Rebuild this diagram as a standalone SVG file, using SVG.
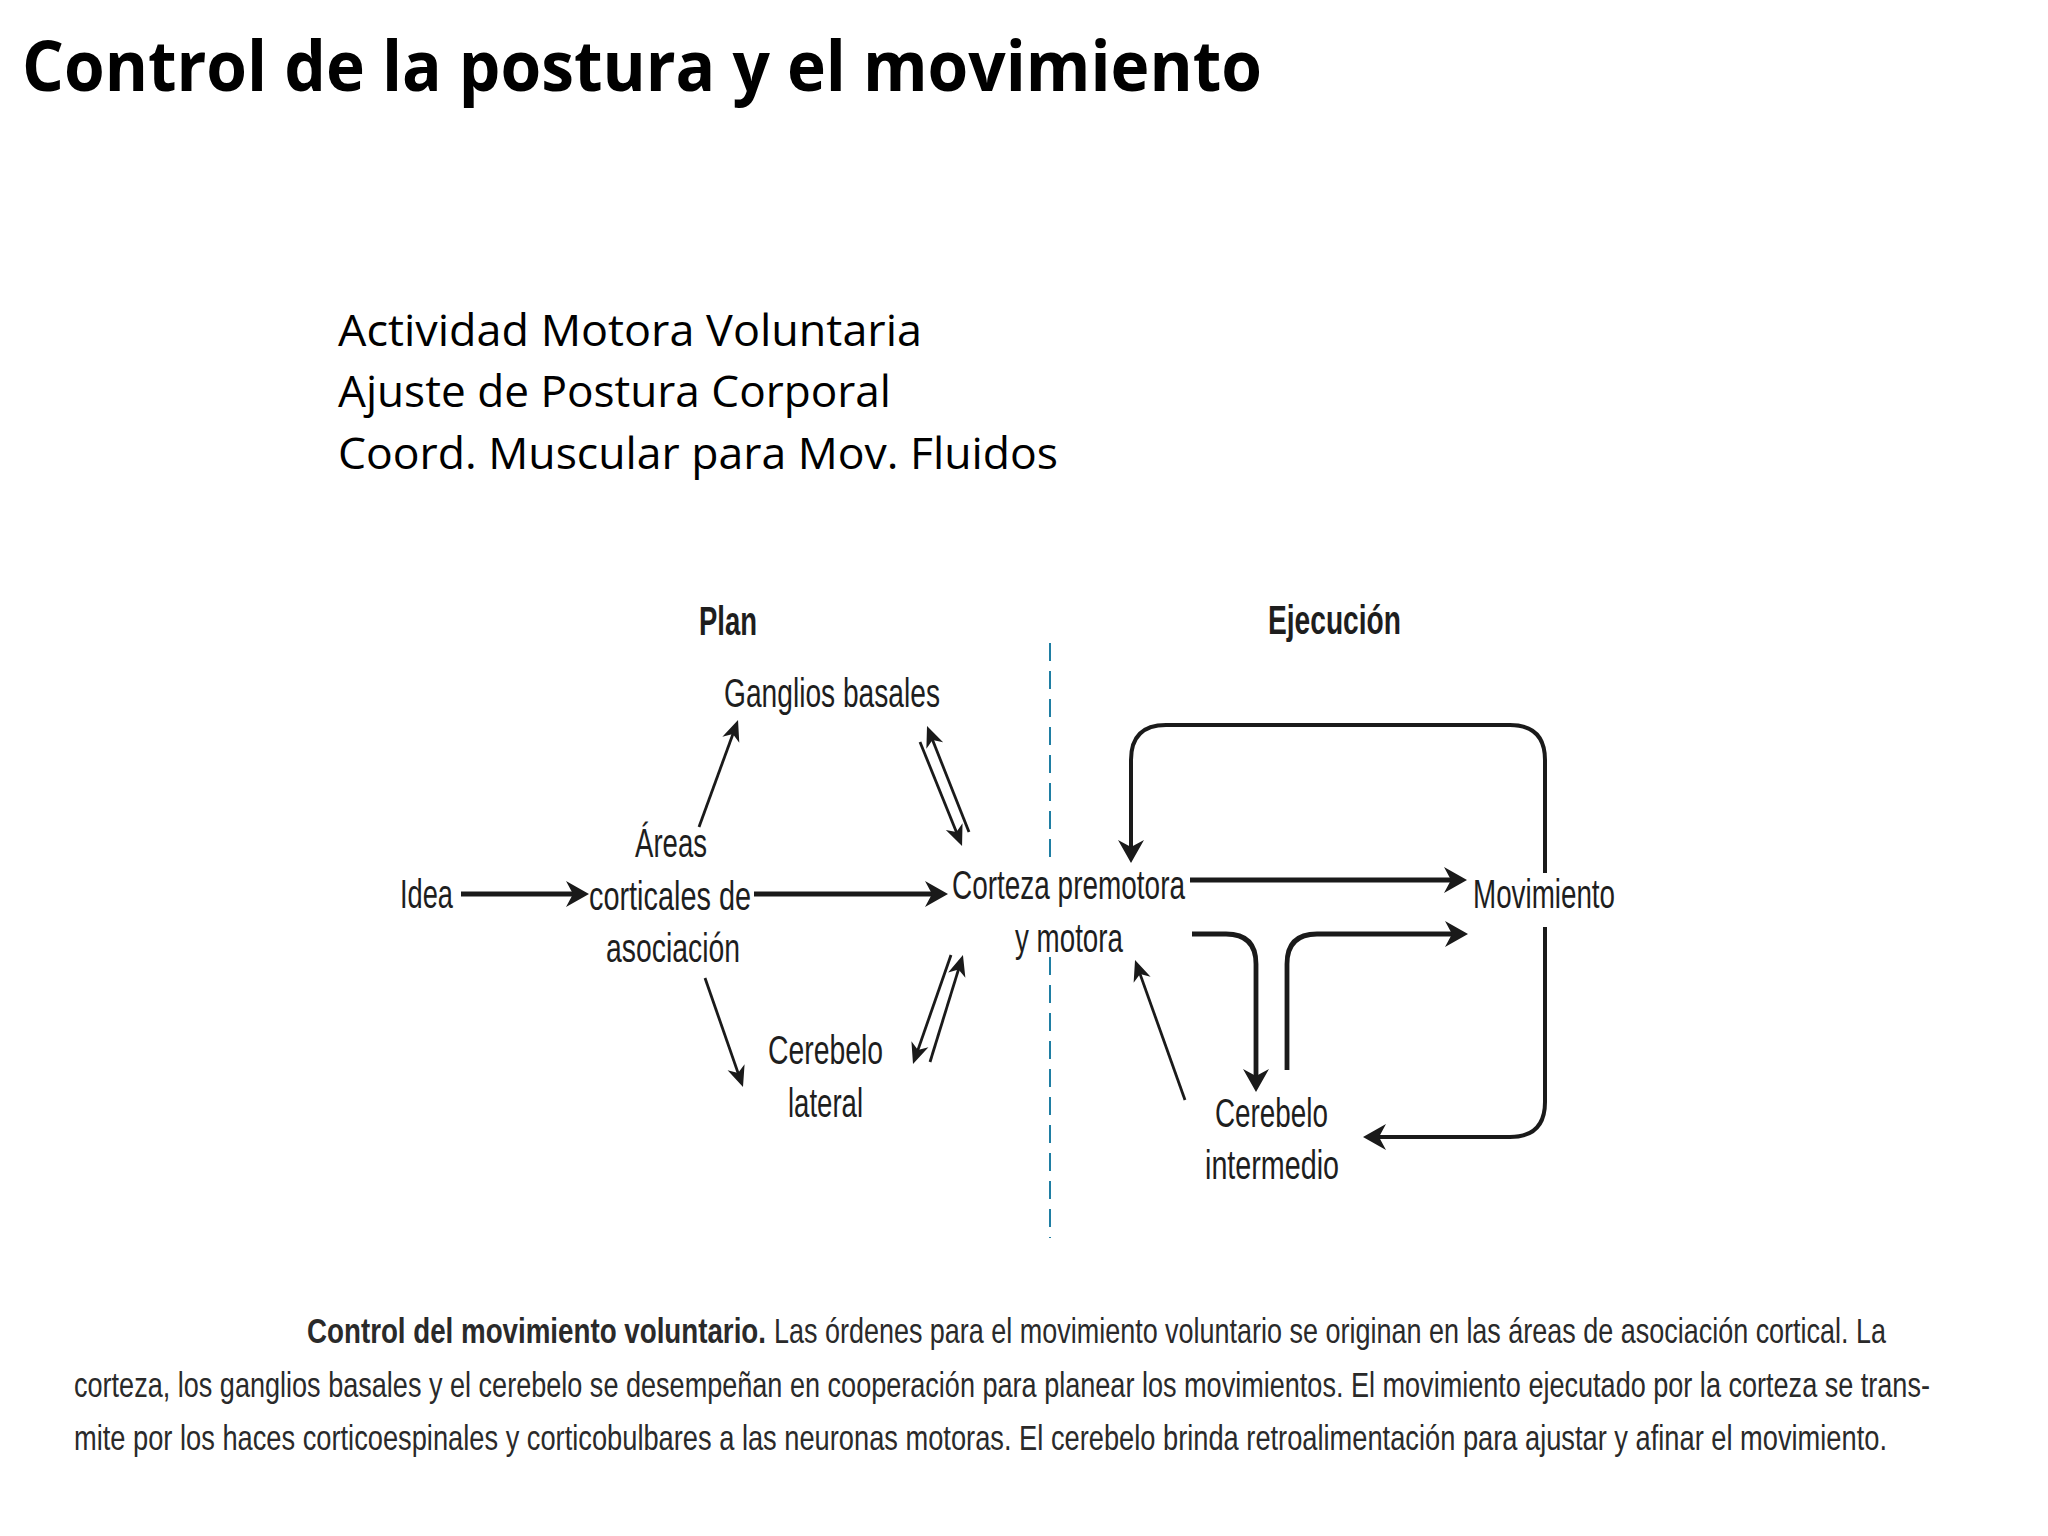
<svg xmlns="http://www.w3.org/2000/svg" width="2048" height="1536" viewBox="0 0 2048 1536">
<style>
.title{font-family:"Open Sans","Liberation Sans",sans-serif;font-weight:700;font-size:70px;fill:#000}
.bul{font-family:"Open Sans","Liberation Sans",sans-serif;font-size:44px;fill:#000}
.lbl{font-family:"Liberation Sans",Arial,sans-serif;font-size:41px;fill:#1e1e1e}
.hdr{font-family:"Liberation Sans",Arial,sans-serif;font-weight:700;font-size:41px;fill:#1e1e1e}
.cap{font-family:"Liberation Sans",Arial,sans-serif;font-size:36px;fill:#2a2a2a}
.thick{fill:none;stroke:#1a1a1a;stroke-width:4.8}
.loop{fill:none;stroke:#1a1a1a;stroke-width:4}
.thin{fill:none;stroke:#1a1a1a;stroke-width:2.8}
.dash{fill:none;stroke:#1f7ea3;stroke-width:2;stroke-dasharray:18 10}
</style>
<defs>
<marker id="ah" markerUnits="userSpaceOnUse" viewBox="-12 -14 26 28" refX="0" refY="0" markerWidth="26" markerHeight="28" orient="auto" overflow="visible">
<path d="M12,0 L-11,-13 L-4,0 L-11,13 Z" fill="#1a1a1a"/>
</marker>
<marker id="ahs" markerUnits="userSpaceOnUse" viewBox="-10 -10 22 20" refX="0" refY="0" markerWidth="22" markerHeight="20" orient="auto" overflow="visible">
<path d="M10,0 L-11,-9 L-5,0 L-11,9 Z" fill="#1a1a1a"/>
</marker>
</defs>
<rect width="2048" height="1536" fill="#fff"/>

<text class="title" x="22" y="91" textLength="1240" lengthAdjust="spacingAndGlyphs">Control de la postura y el movimiento</text>

<g id="bullets">
<text class="bul" x="338" y="346" textLength="584" lengthAdjust="spacingAndGlyphs">Actividad Motora Voluntaria</text>
<text class="bul" x="338" y="407" textLength="553" lengthAdjust="spacingAndGlyphs">Ajuste de Postura Corporal</text>
<text class="bul" x="338" y="469" textLength="720" lengthAdjust="spacingAndGlyphs">Coord. Muscular para Mov. Fluidos</text>
</g>

<g id="headers">
<text class="hdr" x="699" y="635" textLength="58" lengthAdjust="spacingAndGlyphs">Plan</text>
<text class="hdr" x="1268" y="634" textLength="133" lengthAdjust="spacingAndGlyphs">Ejecución</text>
</g>

<g id="divider">
<line class="dash" x1="1050" y1="643" x2="1050" y2="858"/>
<line class="dash" x1="1050" y1="957" x2="1050" y2="1238"/>
</g>

<g id="node-idea"><text class="lbl" x="400" y="908" textLength="53" lengthAdjust="spacingAndGlyphs">Idea</text></g>
<g id="node-areas">
<text class="lbl" x="635" y="857" textLength="72" lengthAdjust="spacingAndGlyphs">Áreas</text>
<text class="lbl" x="589" y="910" textLength="162" lengthAdjust="spacingAndGlyphs">corticales de</text>
<text class="lbl" x="606" y="962" textLength="134" lengthAdjust="spacingAndGlyphs">asociación</text>
</g>
<g id="node-ganglios"><text class="lbl" x="724" y="707" textLength="216" lengthAdjust="spacingAndGlyphs">Ganglios basales</text></g>
<g id="node-cerebelo-lateral">
<text class="lbl" x="768" y="1064" textLength="115" lengthAdjust="spacingAndGlyphs">Cerebelo</text>
<text class="lbl" x="788" y="1117" textLength="75" lengthAdjust="spacingAndGlyphs">lateral</text>
</g>
<g id="node-corteza">
<text class="lbl" x="952" y="899" textLength="233" lengthAdjust="spacingAndGlyphs">Corteza premotora</text>
<text class="lbl" x="1015" y="952" textLength="108" lengthAdjust="spacingAndGlyphs">y motora</text>
</g>
<g id="node-movimiento"><text class="lbl" x="1473" y="908" textLength="142" lengthAdjust="spacingAndGlyphs">Movimiento</text></g>
<g id="node-cerebelo-intermedio">
<text class="lbl" x="1215" y="1127" textLength="113" lengthAdjust="spacingAndGlyphs">Cerebelo</text>
<text class="lbl" x="1205" y="1179" textLength="134" lengthAdjust="spacingAndGlyphs">intermedio</text>
</g>

<g id="connectors">
<path class="thick" d="M461,894 H577" marker-end="url(#ah)"/>
<path class="thick" d="M754,894 H936" marker-end="url(#ah)"/>
<path class="thin" d="M699,827 L734.6,729.4" marker-end="url(#ahs)"/>
<path class="thin" d="M705,978 L739.7,1077.6" marker-end="url(#ahs)"/>
<path class="thin" d="M969,832 L930.7,735.3" marker-end="url(#ahs)"/>
<path class="thin" d="M920,742 L958.3,836.7" marker-end="url(#ahs)"/>
<path class="thin" d="M930,1062 L960,964.6" marker-end="url(#ahs)"/>
<path class="thin" d="M951,955 L916.3,1054.6" marker-end="url(#ahs)"/>
<path class="thin" d="M1185,1100 L1138.4,969.4" marker-end="url(#ahs)"/>
<path class="thick" d="M1190,880 H1455" marker-end="url(#ah)"/>
<path class="loop" d="M1545,873 V760 Q1545,725 1510,725 H1166 Q1131,725 1131,760 V851" marker-end="url(#ah)"/>
<path class="loop" d="M1545,927 V1102 Q1545,1137 1510,1137 H1375" marker-end="url(#ah)"/>
<path class="thick" d="M1192,934 H1226 Q1256,934 1256,964 V1080" marker-end="url(#ah)"/>
<path class="thick" d="M1287,1070 V964 Q1287,934 1317,934 H1456" marker-end="url(#ah)"/>
</g>

<g id="caption" transform="scale(0.7,1)">
<text class="cap" x="438.6" y="1343" font-weight="700" textLength="655.7" lengthAdjust="spacingAndGlyphs">Control del movimiento voluntario.</text>
<text class="cap" x="1105.7" y="1343" textLength="1588.6" lengthAdjust="spacingAndGlyphs">Las órdenes para el movimiento voluntario se originan en las áreas de asociación cortical. La</text>
<text class="cap" x="105.7" y="1397" textLength="2651.4" lengthAdjust="spacingAndGlyphs">corteza, los ganglios basales y el cerebelo se desempeñan en cooperación para planear los movimientos. El movimiento ejecutado por la corteza se trans-</text>
<text class="cap" x="105.7" y="1450" textLength="2590" lengthAdjust="spacingAndGlyphs">mite por los haces corticoespinales y corticobulbares a las neuronas motoras. El cerebelo brinda retroalimentación para ajustar y afinar el movimiento.</text>
</g>
</svg>
